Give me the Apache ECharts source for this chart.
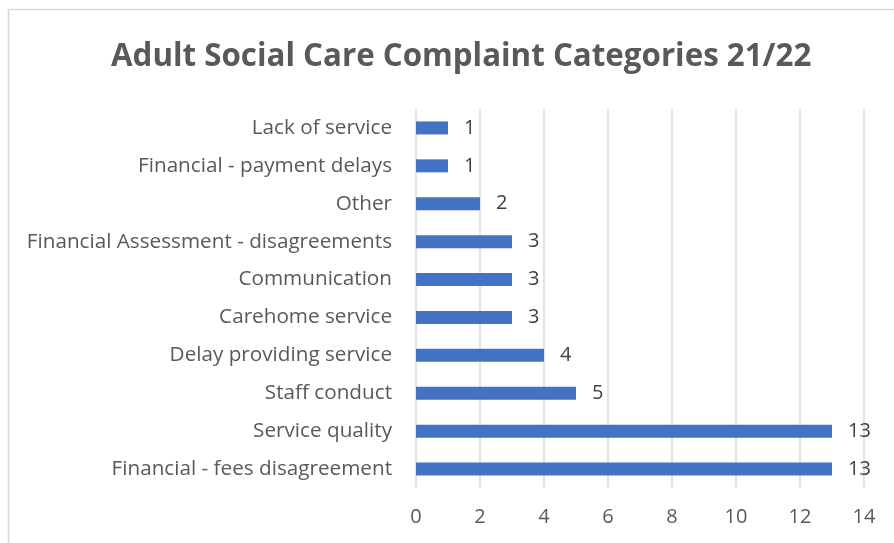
<!DOCTYPE html>
<html>
<head>
<meta charset="utf-8">
<script src="https://cdn.jsdelivr.net/npm/echarts@6/dist/echarts.min.js"></script>
<style>
html,body{margin:0;padding:0;background:#fff;}
#chart{width:894px;height:543px;}
</style>
</head>
<body>
<div id="chart"></div>
<script>
const titleText = 'Adult Social Care Complaint Categories 21/22';
const categories = [
  'Lack of service',
  'Financial - payment delays',
  'Other',
  'Financial Assessment - disagreements',
  'Communication',
  'Carehome service',
  'Delay providing service',
  'Staff conduct',
  'Service quality',
  'Financial - fees disagreement'
];
const values = [1, 1, 2, 3, 3, 3, 4, 5, 13, 13];
const xTicks = [0, 2, 4, 6, 8, 10, 12, 14];

const FONT = 'Open Sans';
const chart = echarts.init(document.getElementById('chart'), null, {renderer: 'canvas'});
chart.setOption({
  animation: false,
  backgroundColor: '#ffffff',
  title: {
    text: titleText,
    left: 106,
    top: 37,
    textStyle: {fontFamily: FONT, fontSize: 31.3, fontWeight: 'bold', color: '#595959'}
  },
  graphic: [{
    type: 'rect',
    shape: {x: 8.5, y: 9.5, width: 1000, height: 1000},
    style: {fill: 'none', stroke: '#d9d9d9', lineWidth: 1.5},
    silent: true,
    z: -1
  }],
  grid: {left: 416, right: 30, top: 109, bottom: 55, containLabel: false},
  xAxis: {
    type: 'value',
    min: xTicks[0],
    max: xTicks[xTicks.length - 1],
    interval: 2,
    axisLine: {show: false},
    axisTick: {show: false},
    axisLabel: {fontFamily: FONT, fontSize: 20, color: '#595959', margin: 19},
    splitLine: {show: true, lineStyle: {color: '#d9d9d9', width: 1.5}}
  },
  yAxis: {
    type: 'category',
    data: categories,
    inverse: true,
    axisLine: {show: false},
    axisTick: {show: false},
    axisLabel: {fontFamily: FONT, fontSize: 20.7, color: '#595959', margin: 24}
  },
  series: [{
    type: 'bar',
    data: values,
    barWidth: 13,
    itemStyle: {color: '#4472C4'},
    label: {
      show: true,
      position: 'right',
      distance: 16,
      fontFamily: FONT,
      fontSize: 20,
      color: '#404040'
    }
  }]
});
</script>
</body>
</html>
